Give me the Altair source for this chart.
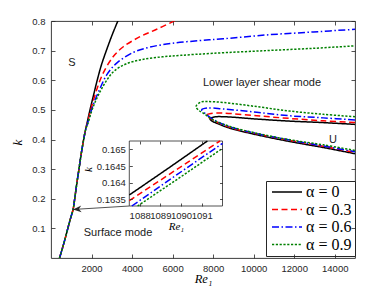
import altair as alt
import pandas as pd

ALPHA_LABELS = ["α = 0", "α = 0.3", "α = 0.6", "α = 0.9"]
LINE_COLORS = ["#000000", "#ff0000", "#0000ff", "#008000"]
LINE_DASHES = [[1, 0], [6, 3.5], [7, 2.5, 1.5, 2.5], [2.2, 1.6]]
LINE_WIDTHS = [1.5, 1.5, 1.5, 2.5]

# Surface mode (S) branch: shared lower part
S_RE_COMMON = [420, 560, 700, 830, 960, 1089, 1170, 1260, 1380, 1480, 1530, 1580, 1630, 1680]
S_K_COMMON = [0.0, 0.032, 0.066, 0.1, 0.133, 0.1638, 0.2, 0.245, 0.3, 0.347, 0.368, 0.388, 0.407, 0.425]

S_RE_A0 = [1740, 1800, 1924, 2100, 2280, 2480, 2730, 3000, 3300, 3500]
S_K_A0 = [0.444, 0.462, 0.5, 0.55, 0.6, 0.65, 0.7, 0.75, 0.8, 0.83]
S_RE_A3 = [1745, 1810, 2008, 2254, 2580, 3074, 3567, 4391, 5215, 6033, 6500]
S_K_A3 = [0.443, 0.46, 0.512, 0.568, 0.625, 0.68, 0.713, 0.747, 0.772, 0.798, 0.81]
S_RE_A6 = [1750, 1820, 2000, 2171, 2417, 2748, 3241, 4060, 4884, 6000, 7350, 8500, 10641, 12940, 15000]
S_K_A6 = [0.443, 0.458, 0.5, 0.533, 0.572, 0.618, 0.658, 0.694, 0.712, 0.725, 0.734, 0.74, 0.753, 0.763, 0.772]
S_RE_A9 = [1755, 1830, 2000, 2200, 2450, 2750, 3100, 3700, 4500, 5500, 6400, 8000, 10600, 13000, 15000]
S_K_A9 = [0.443, 0.456, 0.495, 0.53, 0.565, 0.6, 0.63, 0.655, 0.67, 0.679, 0.684, 0.691, 0.70, 0.708, 0.716]

# Lower layer shear mode (U) branch: upper part -> nose -> lower part
U_RE_A0 = [15000, 13434, 11791, 10148, 8500, 8050, 7844, 7950, 8175, 8831, 10148, 11791, 13434, 15000]
U_K_A0 = [0.451, 0.457, 0.462, 0.469, 0.477, 0.476, 0.470, 0.462, 0.455, 0.438, 0.416, 0.393, 0.373, 0.352]
U_RE_A3 = [15000, 13434, 11791, 10148, 8500, 7900, 7680, 7800, 8175, 8831, 10148, 11791, 13434, 15000]
U_K_A3 = [0.457, 0.463, 0.471, 0.48, 0.489, 0.488, 0.483, 0.474, 0.459, 0.441, 0.419, 0.397, 0.377, 0.356]
U_RE_A6 = [15000, 13434, 11791, 10148, 8500, 7700, 7434, 7600, 7900, 8175, 8831, 10148, 11791, 13434, 15000]
U_K_A6 = [0.466, 0.473, 0.48, 0.492, 0.503, 0.506, 0.5, 0.488, 0.472, 0.461, 0.443, 0.42, 0.398, 0.378, 0.359]
U_RE_A9 = [15000, 13434, 11791, 10148, 8500, 7700, 7380, 7153, 7300, 7514, 8007, 8831, 10148, 11791, 13434, 15000]
U_K_A9 = [0.477, 0.485, 0.496, 0.511, 0.525, 0.528, 0.526, 0.511, 0.498, 0.489, 0.466, 0.444, 0.421, 0.399, 0.382, 0.363]

# Inset (zoom near Re1 ~ 1089)
IN_RE_A0 = [1087.5, 1089.4, 1091.27]
IN_K_A0 = [0.16363, 0.16444, 0.16525]
IN_RE_A3 = [1087.5, 1089.7, 1091.88]
IN_K_A3 = [0.16346, 0.16436, 0.16525]
IN_RE_A6 = [1087.62, 1089.8, 1092.0]
IN_K_A6 = [0.1633, 0.16424, 0.16518]
IN_RE_A9 = [1087.9, 1090.0, 1092.0]
IN_K_A9 = [0.1633, 0.16418, 0.16503]

X_TICKS = [2000, 4000, 6000, 8000, 10000, 12000, 14000]
Y_TICKS = [0.1, 0.2, 0.3, 0.4, 0.5, 0.6, 0.7, 0.8]
IN_X_TICKS = [1088, 1089, 1090, 1091]
IN_Y_TICKS = [0.1635, 0.164, 0.1645, 0.165]
X_LIM = [0, 15000]
Y_LIM = [0, 0.8]
IN_X_LIM = [1087.5, 1092.0]
IN_Y_LIM = [0.1633, 0.16525]

ANNOT_LABELS = ["S", "Lower layer shear mode", "U", "Surface mode"]
ANNOT_RE = [1036, 10411, 13914, 3306]
ANNOT_K = [0.658, 0.5907, 0.400, 0.0844]

ARROW_FROM = [3863, 0.1755]
ARROW_TO = [1089, 0.1638]

W, H = 304, 237
INSET_PX_X = [78.3, 171.5]
INSET_PX_Y = [185, 120]

# ---------------- build tables ----------------
rows = []
s_parts = [(S_RE_A0, S_K_A0), (S_RE_A3, S_K_A3), (S_RE_A6, S_K_A6), (S_RE_A9, S_K_A9)]
u_parts = [(U_RE_A0, U_K_A0), (U_RE_A3, U_K_A3), (U_RE_A6, U_K_A6), (U_RE_A9, U_K_A9)]
for i, lab in enumerate(ALPHA_LABELS):
    re_s = S_RE_COMMON + s_parts[i][0]
    k_s = S_K_COMMON + s_parts[i][1]
    for j, (r, k) in enumerate(zip(re_s, k_s)):
        rows.append({"alpha": lab, "branch": f"S{i}", "ord": j, "Re": r, "k": k})
    for j, (r, k) in enumerate(zip(*u_parts[i])):
        rows.append({"alpha": lab, "branch": f"U{i}", "ord": j, "Re": r, "k": k})
main_df = pd.DataFrame(rows)

in_rows = []
in_parts = [(IN_RE_A0, IN_K_A0), (IN_RE_A3, IN_K_A3), (IN_RE_A6, IN_K_A6), (IN_RE_A9, IN_K_A9)]
for i, lab in enumerate(ALPHA_LABELS):
    for j, (r, k) in enumerate(zip(*in_parts[i])):
        in_rows.append({"alpha": lab, "ord": j, "Re": r, "k": k})
inset_df = pd.DataFrame(in_rows)

annot_df = pd.DataFrame({"label": ANNOT_LABELS, "Re": ANNOT_RE, "k": ANNOT_K})
arrow_df = pd.DataFrame({"re0": [ARROW_FROM[0]], "k0": [ARROW_FROM[1]],
                         "re1": [ARROW_TO[0]], "k1": [ARROW_TO[1]]})
frame_df = pd.DataFrame({"x0": [IN_X_LIM[0]], "x1": [IN_X_LIM[1]],
                         "y0": [IN_Y_LIM[0]], "y1": [IN_Y_LIM[1]]})

AX = "#262626"
TICKFONT = "Liberation Sans"
SERIF = "Liberation Serif"

leg = alt.Legend(title=None, labelExpr="datum.label + '\u00a0\u00a0'")
color_enc = alt.Color("alpha:N", scale=alt.Scale(domain=ALPHA_LABELS, range=LINE_COLORS), legend=leg)
dash_enc = alt.StrokeDash("alpha:N", scale=alt.Scale(domain=ALPHA_LABELS, range=LINE_DASHES), legend=leg)
width_enc = alt.StrokeWidth("alpha:N", scale=alt.Scale(domain=ALPHA_LABELS, range=LINE_WIDTHS), legend=leg)

xs_main = alt.Scale(domain=X_LIM, nice=False, zero=False)
ys_main = alt.Scale(domain=Y_LIM, nice=False, zero=False)

main_lines = alt.Chart(main_df).mark_line(clip=True, interpolate="catmull-rom").encode(
    x=alt.X("Re:Q", scale=xs_main,
            axis=alt.Axis(orient="bottom", values=X_TICKS, format="d", offset=-4, tickSize=4,
                          domain=False, labelPadding=5, title="Re₁", titleFont=SERIF,
                          titleFontStyle="italic", titleFontWeight="normal", titleFontSize=12.5,
                          titlePadding=0, zindex=1)),
    y=alt.Y("k:Q", scale=ys_main,
            axis=alt.Axis(orient="left", values=Y_TICKS, format=".1f", offset=-4, tickSize=4,
                          domain=False, labelPadding=6, title="k", titleFont=SERIF,
                          titleFontStyle="italic", titleFontWeight="normal", titleFontSize=13,
                          titlePadding=7, titleY=121, zindex=1)),
    color=color_enc, strokeDash=dash_enc, strokeWidth=width_enc,
    detail="branch:N", order="ord:Q",
)

main_text = alt.Chart(annot_df).mark_text(font=TICKFONT, fontSize=11, color="#1a1a1a",
                                          align="center", baseline="middle").encode(
    x=alt.X("Re:Q", scale=xs_main,
            axis=alt.Axis(orient="top", values=X_TICKS, labels=False, offset=-4, tickSize=4,
                          domain=False, title=None, zindex=1)),
    y=alt.Y("k:Q", scale=ys_main,
            axis=alt.Axis(orient="right", values=Y_TICKS, labels=False, offset=-4, tickSize=4,
                          domain=False, title=None, zindex=1)),
    text="label:N",
)

arrow_line = alt.Chart(arrow_df).mark_rule(color=AX, strokeWidth=0.8).encode(
    x=alt.X("re0:Q", scale=xs_main, axis=None), x2="re1:Q",
    y=alt.Y("k0:Q", scale=ys_main, axis=None), y2="k1:Q",
)
arrow_head = alt.Chart(arrow_df).mark_point(
    shape="M0,0L2,-0.8L1.4,0L2,0.8Z", filled=True, size=70, angle=356.4,
    color=AX, opacity=1, strokeWidth=0,
).encode(
    x=alt.X("re1:Q", scale=xs_main, axis=None),
    y=alt.Y("k1:Q", scale=ys_main, axis=None),
)

main = alt.layer(main_lines, main_text, arrow_line, arrow_head).resolve_axis(
    x="independent", y="independent")

xs_in = alt.Scale(domain=IN_X_LIM, range=INSET_PX_X, nice=False, zero=False)
ys_in = alt.Scale(domain=IN_Y_LIM, range=INSET_PX_Y, nice=False, zero=False)

off_bottom = -(H - INSET_PX_Y[0])
off_top = -INSET_PX_Y[1]
off_left = -INSET_PX_X[0]
off_right = INSET_PX_X[1] - W

inset_frame = alt.Chart(frame_df).mark_rect(fill="white", stroke=AX, strokeWidth=0.8).encode(
    x=alt.X("x0:Q", scale=xs_in,
            axis=alt.Axis(orient="top", values=IN_X_TICKS, labels=False, offset=off_top - 3,
                          tickSize=3, domain=False, title=None, zindex=1)),
    x2="x1:Q",
    y=alt.Y("y0:Q", scale=ys_in,
            axis=alt.Axis(orient="right", values=IN_Y_TICKS, labels=False, offset=off_right - 3,
                          tickSize=3, domain=False, title=None, zindex=1)),
    y2="y1:Q",
)

inset_lines = alt.Chart(inset_df).mark_line().encode(
    x=alt.X("Re:Q", scale=xs_in,
            axis=alt.Axis(orient="bottom", values=IN_X_TICKS, format="d", offset=off_bottom - 3,
                          tickSize=3, domain=False, labelPadding=4, labelOverlap=False,
                          title="Re₁", titleFont=SERIF,
                          titleFontStyle="italic", titleFontWeight="normal", titleFontSize=11,
                          titlePadding=1, zindex=1)),
    y=alt.Y("k:Q", scale=ys_in,
            axis=alt.Axis(orient="left", values=IN_Y_TICKS, format=".4~f", offset=off_left - 3,
                          tickSize=3, domain=False, labelPadding=4, labelOverlap=False,
                          title="k", titleFont=SERIF,
                          titleFontStyle="italic", titleFontWeight="normal", titleFontSize=11,
                          titlePadding=3, titleY=148, zindex=1)),
    color=color_enc, strokeDash=dash_enc, strokeWidth=width_enc,
    order="ord:Q",
)

inset = alt.layer(inset_frame, inset_lines).resolve_axis(x="independent", y="independent")

chart = alt.layer(main, inset).resolve_scale(x="independent", y="independent").properties(
    width=W, height=H,
    autosize=alt.AutoSizeParams(type="none"),
    padding={"left": 43, "top": 13, "right": 29, "bottom": 28},
).configure_view(
    stroke=AX, strokeWidth=0.9,
).configure_axis(
    labelFont=TICKFONT, labelFontSize=9.5, labelColor=AX, tickColor=AX, tickWidth=0.8,
    grid=False, titleColor="#000000", labelFlush=False,
).configure_legend(
    orient="none", legendX=215, legendY=160,
    symbolType="M-1,0H5", symbolSize=100, labelOffset=21,
    labelFont=SERIF, labelFontSize=16, labelColor="#000000",
    padding=3, rowPadding=1.5, strokeColor=AX, fillColor="white",
    cornerRadius=0,
)

chart.save("out.html", embed_options={"renderer": "svg", "actions": False})
